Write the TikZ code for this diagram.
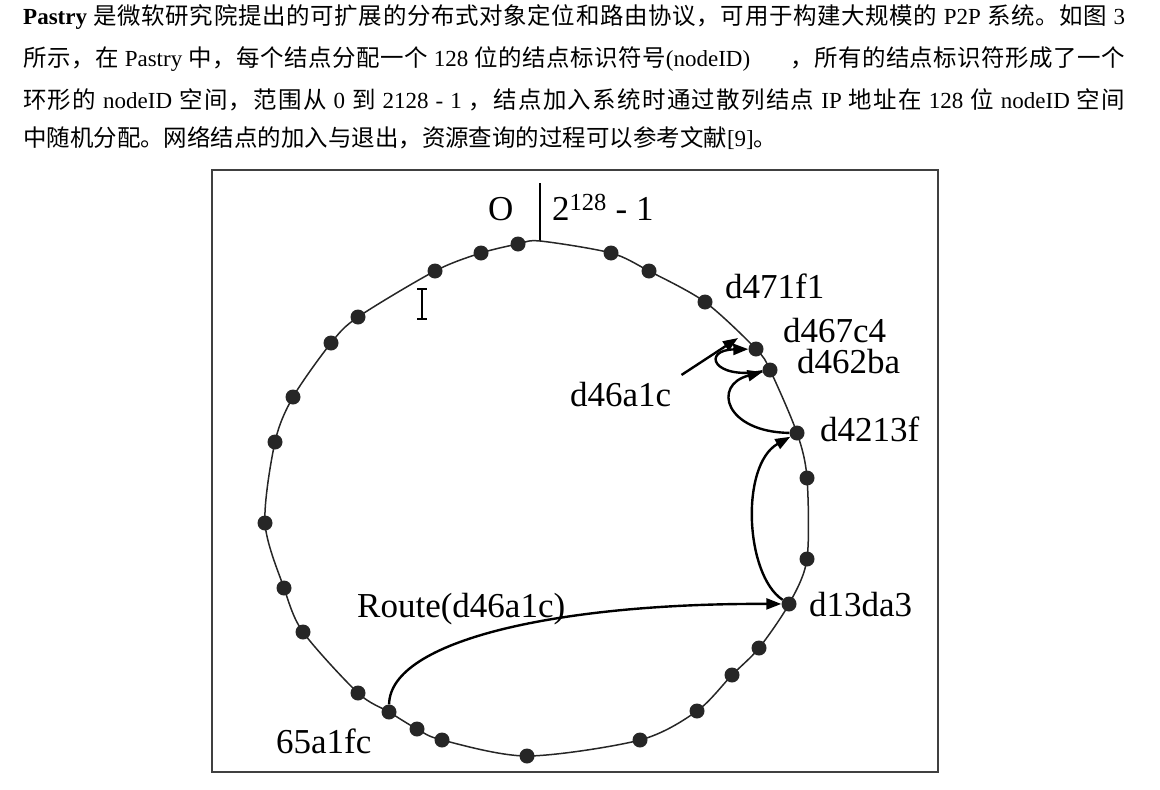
\documentclass[tikz,border=0pt]{standalone}
\usepackage{fontspec}
\setmainfont{Liberation Serif}
\newfontfamily\zhfont[Scale=1.02]{Noto Sans CJK SC}
\newcommand\zh[1]{{\zhfont #1}}
\XeTeXinterchartokenstate=1
\newXeTeXintercharclass\zhclass
\newcount\zhcode
\zhcode="4E00
\loop
  \XeTeXcharclass\zhcode=\zhclass
  \advance\zhcode by 1
\ifnum\zhcode<"A000 \repeat
\XeTeXcharclass"3002=\zhclass
\XeTeXcharclass"FF0C=\zhclass
\XeTeXinterchartoks\zhclass\zhclass={\hskip0pt plus 3pt\relax}
\usetikzlibrary{arrows.meta}

\begin{document}
\begin{tikzpicture}[x=1pt,y=-1pt,
  para/.style={anchor=west,inner sep=0pt,font=\fontsize{23}{26}\selectfont},
  dot/.style={circle,fill=black!85,inner sep=0pt,minimum size=15pt},
  lbl/.style={anchor=base west,inner sep=0pt,font=\fontsize{35}{40}\selectfont},
  hop/.style={line width=2.4pt,-{Triangle[length=15pt,width=11pt]}}]
\useasboundingbox (0,0) rectangle (1160,790);
\node[para] (line1) at (23,17) {\makebox[1102pt][s]{\textbf{Pastry} \zh{是微软研究院提出的可扩展的分布式对象定位和路由协议，可用于构建大规模的} P2P \zh{系统。如图} 3}};
\node[para] (line2) at (23,59) {\makebox[1102pt][s]{\zh{所示，在} Pastry \zh{中，每个结点分配一个} 128 \zh{位的结点标识符号}(nodeID)\hspace{40pt}\zh{，所有的结点标识符形成了一个}}};
\node[para] (line3) at (23,100) {\makebox[1102pt][s]{\zh{环形的} nodeID \zh{空间，范围从} 0 \zh{到} 2128 - 1 \zh{，结点加入系统时通过散列结点} IP \zh{地址在} 128 \zh{位} nodeID \zh{空间}}};
\node[para] (line4) at (23,138) {\zh{中随机分配。网络结点的加入与退出，资源查询的过程可以参考文献}[9]\zh{。}};
\draw[black!75,line width=2pt] (212,170) rectangle (938,772);
\coordinate (zero) at (540,241);
\draw[line width=1.6pt] (zero) -- (540,183);
\node[dot] (p1) at (518,244) {};
\node[dot] (p2) at (481,253) {};
\node[dot] (p3) at (435,271) {};
\node[dot] (p4) at (358,317) {};
\node[dot] (p5) at (331,343) {};
\node[dot] (p6) at (293,397) {};
\node[dot] (p7) at (275,442) {};
\node[dot] (p8) at (265,523) {};
\node[dot] (p9) at (284,588) {};
\node[dot] (p10) at (303,632) {};
\node[dot] (p11) at (358,693) {};
\node[dot] (p12) at (389,712) {};
\node[dot] (p13) at (417,729) {};
\node[dot] (p14) at (442,740) {};
\node[dot] (p15) at (527,756) {};
\node[dot] (p16) at (640,740) {};
\node[dot] (p17) at (697,711) {};
\node[dot] (p18) at (732,675) {};
\node[dot] (p19) at (759,648) {};
\node[dot] (p20) at (789,604) {};
\node[dot] (p21) at (807,559) {};
\node[dot] (p22) at (807,478) {};
\node[dot] (p23) at (797,433) {};
\node[dot] (p24) at (770,370) {};
\node[dot] (p25) at (756,349) {};
\node[dot] (p26) at (705,302) {};
\node[dot] (p27) at (649,271) {};
\node[dot] (p28) at (611,253) {};
\draw[line width=1.5pt,black!85] plot[smooth cycle] coordinates {(p1.center) (p2.center) (p3.center) (p4.center) (p5.center) (p6.center) (p7.center) (p8.center) (p9.center) (p10.center) (p11.center) (p12.center) (p13.center) (p14.center) (p15.center) (p16.center) (p17.center) (p18.center) (p19.center) (p20.center) (p21.center) (p22.center) (p23.center) (p24.center) (p25.center) (p26.center) (p27.center) (p28.center) (zero)};
\node[lbl] (lzero) at (488,220) {O};
\node[lbl] (ltop) at (552,220) {2\textsuperscript{128} - 1};
\node[lbl] (l471) at (725,298) {d471f1};
\node[lbl] (l467) at (783,342) {d467c4};
\node[lbl] (l462) at (797,373) {d462ba};
\node[lbl] (l46) at (570,406) {d46a1c};
\node[lbl] (l4213) at (820,441) {d4213f};
\node[lbl] (l13) at (809,616) {d13da3};
\node[lbl] (lroute) at (357,617) {Route(d46a1c)};
\node[lbl] (l65) at (276,753) {65a1fc};
\coordinate (tip46) at (738,338);
\draw[hop,shorten <=12pt] (l46.north east) -- (tip46);
\draw[hop] (p24) .. controls (712,380) and (702,350) .. (p25);
\draw[hop] (p23) .. controls (725,432) and (712,385) .. (p24);
\draw[hop] (p20) .. controls (745,575) and (740,465) .. (p23);
\draw[hop] (p12) .. controls (390,640) and (560,603) .. (p20);
\draw[line width=1.2pt] (422,290) -- (422,318) (417,289) -- (427,289) (417,319) -- (427,319);
\end{tikzpicture}
\end{document}
